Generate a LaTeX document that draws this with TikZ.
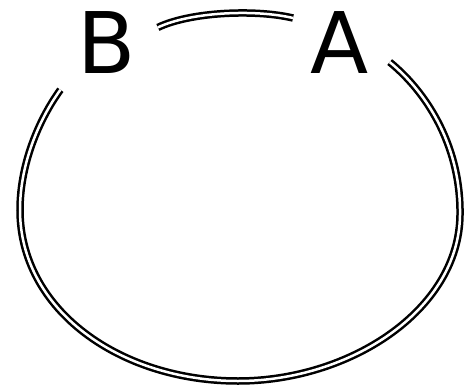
\documentclass[tikz,border=0pt]{standalone}
\usepackage{fontspec}
\setmainfont{DejaVu Sans}
\begin{document}
\begin{tikzpicture}[x=1pt,y=-1pt,
  lbl/.style={circle,inner sep=0pt,minimum size=106pt,font=\fontsize{85}{90}\selectfont},
  dbl/.style={draw=black,double=white,line width=2.5pt,double distance=2.5pt}]
\useasboundingbox (0,0) rectangle (473,388);
\node[lbl] (B) at (107,43) {B};
\node[lbl] (A) at (340,43) {A};
\draw[dbl] (B.17) .. controls (190,12) and (255,9) .. (A.152);
\draw[dbl,shorten >=13pt] (A.-21) .. controls (430,95) and (461,150) .. (460,215)
  .. controls (459,310) and (350,381) .. (238,381)
  .. controls (120,381) and (20,310) .. (20,210)
  .. controls (20,160) and (42,115) .. (B.223);
\end{tikzpicture}
\end{document}
